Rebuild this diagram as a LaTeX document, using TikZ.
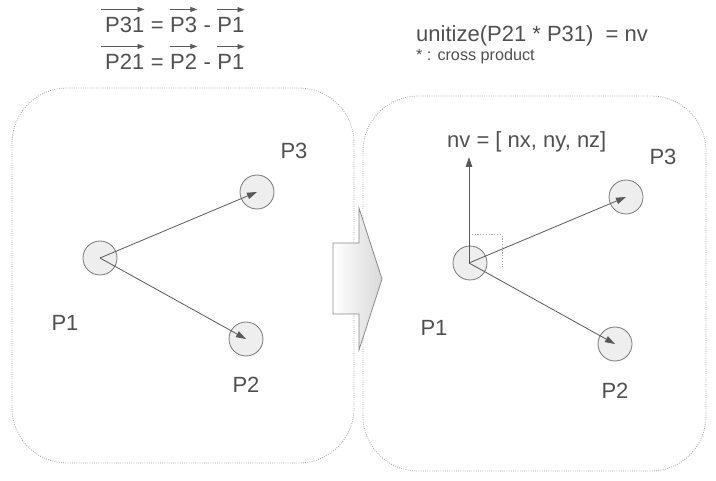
\documentclass[tikz,border=0pt]{standalone}
\usepackage{fontspec}
\setmainfont{Liberation Sans}
\usetikzlibrary{arrows.meta}
\definecolor{txtc}{HTML}{505050}
\definecolor{linec}{HTML}{595959}
\definecolor{dotc}{HTML}{A0A0A0}
\definecolor{circfill}{HTML}{EEEEEE}
\definecolor{circdraw}{HTML}{777777}
\definecolor{arrdraw}{HTML}{8A8A8A}
\begin{document}
\begin{tikzpicture}[x=1pt,y=-1pt,
 txt/.style={text=txtc,font=\fontsize{22}{26}\selectfont,inner sep=0pt},
 small/.style={text=txtc,font=\fontsize{16.2}{19}\selectfont,inner sep=0pt},
 panel/.style={draw=dotc,line width=0.8pt,dash pattern=on 0.8pt off 1.4pt,rounded corners=55pt},
 ptnode/.style={circle,fill=circfill,draw=circdraw,line width=0.8pt,minimum size=34pt,inner sep=0pt},
 vec/.style={draw=linec,line width=0.8pt,-{Triangle[length=10pt,width=6.5pt]}},
 ovec/.style={draw=linec,line width=0.8pt,-{Triangle[length=7pt,width=5pt]}},
 rightangle/.style={draw=dotc,line width=1pt,dash pattern=on 1.2pt off 1.6pt},
 bigarrow/.style={draw=arrdraw,line width=0.8pt,left color=white,right color=black!15}]
\useasboundingbox (0,0) rectangle (716,481);

% top-left formulas
\node[txt,anchor=base west] (a1) at (105,33) {P31};
\node[txt,anchor=base west] (a2) at (a1.base east) {\ =\ \null};
\node[txt,anchor=base west] (a3) at (a2.base east) {P3};
\node[txt,anchor=base west] (a4) at (a3.base east) {\ -\ \null};
\node[txt,anchor=base west] (a5) at (a4.base east) {P1};
\draw[ovec] ([xshift=-4pt,yshift=8pt]a1.north west) -- ([yshift=8pt]a1.north east);
\draw[ovec] ([yshift=8pt]a3.north west) -- ([yshift=8pt]a3.north east);
\draw[ovec] ([yshift=8pt]a5.north west) -- ([yshift=8pt]a5.north east);

\node[txt,anchor=base west] (b1) at (105,70) {P21};
\node[txt,anchor=base west] (b2) at (b1.base east) {\ =\ \null};
\node[txt,anchor=base west] (b3) at (b2.base east) {P2};
\node[txt,anchor=base west] (b4) at (b3.base east) {\ -\ \null};
\node[txt,anchor=base west] (b5) at (b4.base east) {P1};
\draw[ovec] ([xshift=-4pt,yshift=8pt]b1.north west) -- ([yshift=8pt]b1.north east);
\draw[ovec] ([yshift=8pt]b3.north west) -- ([yshift=8pt]b3.north east);
\draw[ovec] ([yshift=8pt]b5.north west) -- ([yshift=8pt]b5.north east);

% top-right formula
\node[txt,anchor=base west] (u1) at (416,42) {unitize(P21 * P31)\ \ = nv};
\node[small,anchor=base west] (u2) at (416,61) {* : cross product};

% panels
\draw[panel] (12,88) rectangle (354,463);
\draw[panel] (363,96) rectangle (706,471);

% big arrow
\path[bigarrow] (333,243) -- (359,243) -- (359,208) -- (382,279) -- (359,350) -- (359,314) -- (333,314) -- cycle;

% left panel
\node[ptnode] (p1) at (100,258) {};
\node[ptnode] (p3) at (257,192) {};
\node[ptnode] (p2) at (246,339) {};
\draw[vec] (p1.center) -- (p3.center);
\draw[vec] (p1.center) -- (p2.center);
\node[txt] (lp1) at (65,323) {P1};
\node[txt] (lp3) at (294,151) {P3};
\node[txt] (lp2) at (246,385) {P2};

% right panel
\node[ptnode] (q1) at (470,263) {};
\node[ptnode] (q3) at (626,197) {};
\node[ptnode] (q2) at (615,344) {};
\coordinate (nvtip) at (469,157);
\coordinate (ra1) at (469,235);
\coordinate (ra2) at (502,235);
\coordinate (ra3) at (502,267);
\draw[rightangle] (ra1) -- (ra2) -- (ra3);
\draw[vec] ([xshift=-1pt]q1.center) -- (nvtip);
\draw[vec] ([xshift=-1pt]q1.center) -- (q3.center);
\draw[vec] ([xshift=-1pt]q1.center) -- (q2.center);
\node[txt,anchor=base west] (nvl) at (447,148) {nv = [ nx, ny, nz]};
\node[txt] (lq1) at (434,328) {P1};
\node[txt] (lq3) at (663,157) {P3};
\node[txt] (lq2) at (615,391) {P2};
\end{tikzpicture}
\end{document}
